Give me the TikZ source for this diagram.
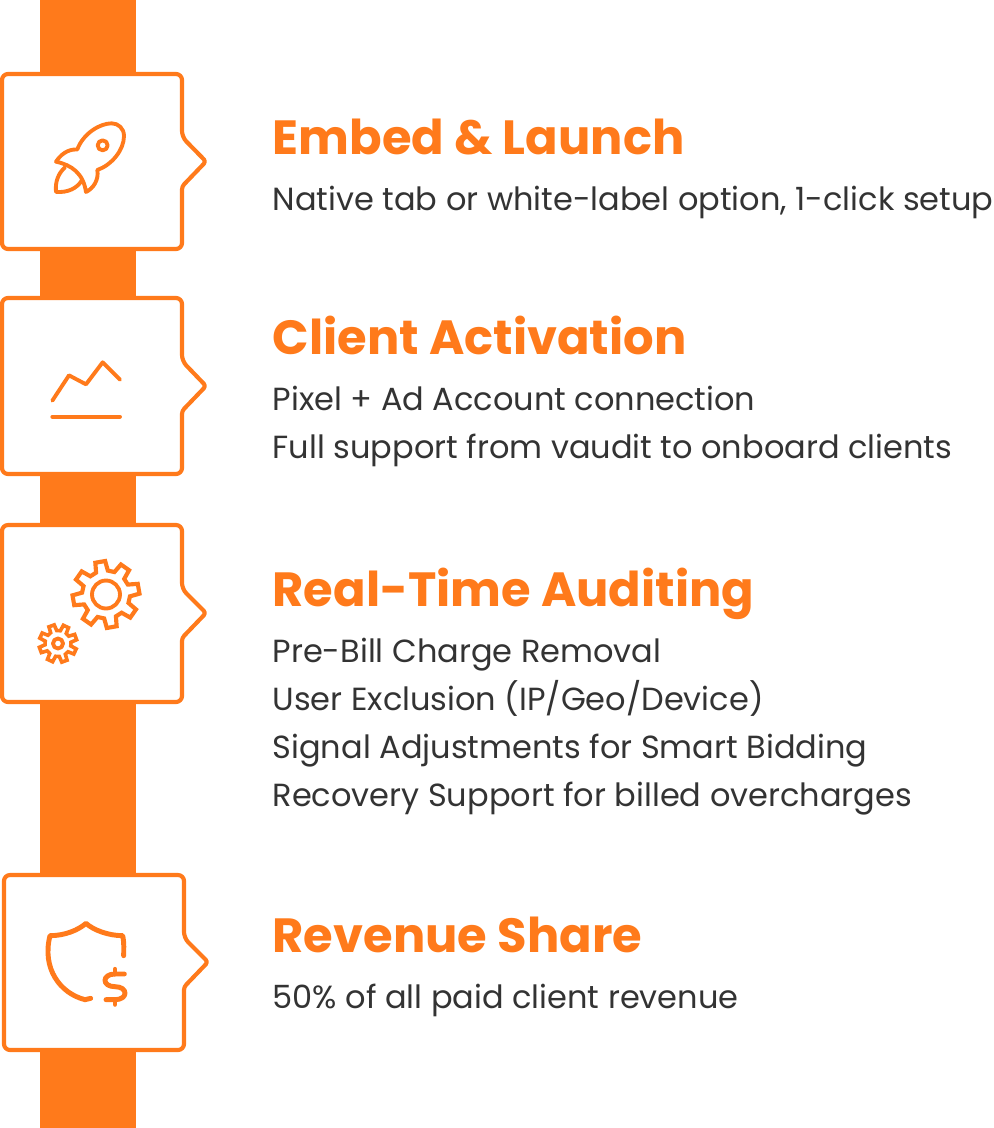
\documentclass[tikz,border=0pt]{standalone}
\usepackage{fontspec}
\setmainfont{Poppins}
\definecolor{brand}{HTML}{FF7A1B}
\definecolor{ink}{HTML}{333333}
\newcommand{\tagbox}[6]{% left right top bottom notch-top tip-y
  \draw[boxline,fill=white,rounded corners=4.5pt] (#1+20,#3) -- (#2,#3) -- (#2,#5) [rounded corners=2.2pt] -- (#2+24,#6) -- (#2,#6+25) [rounded corners=4.5pt] -- (#2,#4) -- (#1,#4) -- (#1,#3) -- cycle;
}
\newcommand{\gearshape}[7]{% cx cy outer root start teeth width
  \pgfmathsetmacro{\gstep}{360/#6}
  \draw[iconline,line width=#7,line join=miter,line cap=butt]
    ({#1+#4*cos(#5-0.32*\gstep)},{#2-#4*sin(#5-0.32*\gstep)})
    \foreach \k [evaluate=\k as \ga using #5+\k*\gstep] in {0,...,\numexpr#6-1\relax}{
      -- ({#1+#4*cos(\ga-0.32*\gstep)},{#2-#4*sin(\ga-0.32*\gstep)})
      -- ({#1+#3*cos(\ga-0.19*\gstep)},{#2-#3*sin(\ga-0.19*\gstep)})
      -- ({#1+#3*cos(\ga+0.19*\gstep)},{#2-#3*sin(\ga+0.19*\gstep)})
      -- ({#1+#4*cos(\ga+0.32*\gstep)},{#2-#4*sin(\ga+0.32*\gstep)})
    } -- cycle;
}
\tikzset{
  x=0.75pt,y=-0.75pt,
  boxline/.style={draw=brand,line width=3.1pt,line join=round},
  iconline/.style={draw=brand,line width=2.9pt,line cap=round,line join=round},
  title/.style={anchor=base west,inner sep=0pt,text=brand,font=\bfseries\fontsize{36}{36}\selectfont},
  body/.style={anchor=base west,inner sep=0pt,text=ink,font=\fontsize{24}{24}\selectfont},
}
\begin{document}
\begin{tikzpicture}
\useasboundingbox (0,0) rectangle (994,1128);
\fill[brand] (40,0) rectangle (136,1128);
\tagbox{2}{182}{74}{249}{137}{161.5}
\tagbox{2}{182}{298}{474}{361}{386}
\tagbox{2}{182}{525}{702}{589}{613}
\tagbox{4}{184}{875}{1050}{938}{962}
% rocket
\begin{scope}[shift={(0,60)},x=0.25pt,y=-0.25pt]
\draw[iconline] (168,305) .. controls (190,272) and (215,268) .. (232,268)
  .. controls (250,220) and (300,190) .. (335,190)
  .. controls (355,190) and (372,205) .. (372,228)
  .. controls (372,270) and (335,315) .. (292,330)
  .. controls (297,360) and (280,385) .. (258,396)
  .. controls (250,340) and (215,315) .. (168,305) -- cycle;
\draw[iconline] (195,322) .. controls (175,340) and (165,365) .. (168,396)
  .. controls (205,398) and (230,385) .. (245,362);
\draw[iconline] (308,256) circle[radius=15];
\end{scope}
% chart
\begin{scope}[shift={(0,290)},x=0.25pt,y=-0.25pt]
\draw[iconline] (157,332) -- (207,256) -- (258,283) -- (308,217) -- (360,269);
\draw[iconline] (157,380) -- (360,380);
\end{scope}
% gears
\gearshape{106}{594.5}{33.5}{24}{10}{8}{3.1pt}
\draw[iconline] (106,594.5) circle[radius=14];
\gearshape{58}{643.5}{19}{13}{20}{8}{2.7pt}
\draw[iconline] (58,643.5) circle[radius=5];
% shield
\begin{scope}[shift={(0,865)},x=0.25pt,y=-0.25pt,iconline/.append style={line width=3.7pt}]
\draw[iconline] (371,272) .. controls (371,255) and (373,235) .. (368,212)
  .. controls (325,212) and (280,195) .. (258,175)
  .. controls (235,195) and (195,212) .. (150,212)
  .. controls (125,310) and (180,385) .. (255,404) -- (272,400);
\draw[iconline] (373,327) -- (345,327) .. controls (305,327) and (305,365) .. (345,365)
  .. controls (385,365) and (385,404) .. (345,404) -- (318,404);
\draw[iconline] (345,313) -- (345,327);
\draw[iconline] (345,404) -- (345,418);
\end{scope}
% text
\node[title] (t1) at (272.4,154.4) {Embed \& Launch};
\node[body] (b1) at (272.4,210) {Native tab or white-label option, 1-click setup};
\node[title] (t2) at (272.4,354.4) {Client Activation};
\node[body] (b2) at (272.4,410) {Pixel + Ad Account connection};
\node[body] (b3) at (272.4,458) {Full support from vaudit to onboard clients};
\node[title] (t3) at (272.4,606.4) {Real-Time Auditing};
\node[body] (b4) at (272.4,662) {Pre-Bill Charge Removal};
\node[body] (b5) at (272.4,710) {User Exclusion (IP/Geo/Device)};
\node[body] (b6) at (272.4,758) {Signal Adjustments for Smart Bidding};
\node[body] (b7) at (272.4,806) {Recovery Support for billed overcharges};
\node[title] (t4) at (272.4,952.4) {Revenue Share};
\node[body] (b8) at (272.4,1008) {50\% of all paid client revenue};
\end{tikzpicture}
\end{document}
